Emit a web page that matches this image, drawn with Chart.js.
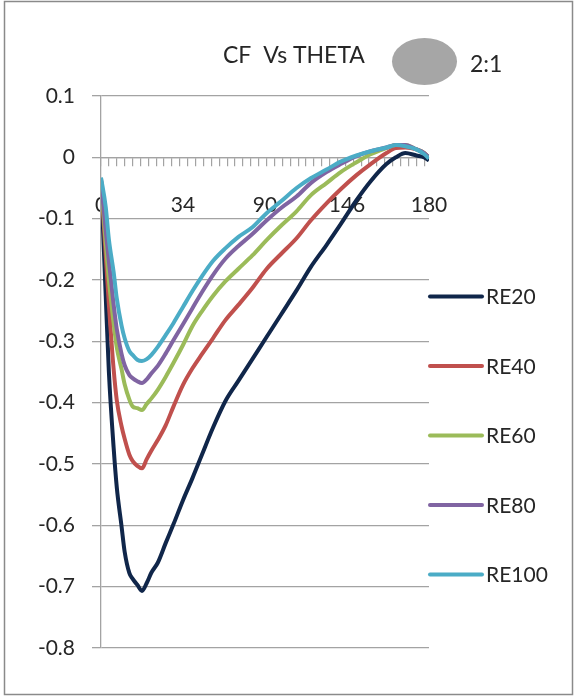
<!DOCTYPE html>
<html>
<head>
<meta charset="utf-8">
<title>CF Vs THETA</title>
<script src="https://cdn.jsdelivr.net/npm/chart.js@4/dist/chart.umd.min.js"></script>
<style>
  html, body { margin: 0; padding: 0; background: #ffffff; }
  #wrap { width: 576px; height: 697px; position: relative; }
</style>
</head>
<body>
<div id="wrap"><canvas id="cf" width="576" height="697"></canvas></div>
<script>
// Sample stations along the surface (category index of the solution grid, 0..208)
const stations = [0, 3, 5, 8, 10, 13, 15, 18, 20, 23, 26, 29, 32, 36, 41, 46, 52, 58, 64, 71,
                  79, 87, 96, 105, 114, 124, 133, 143, 152, 162, 171, 181, 187, 193, 200, 205, 208];

// Skin-friction coefficient for each Reynolds number
const re20 = [-0.034, -0.226, -0.350, -0.473, -0.538, -0.601, -0.643, -0.678, -0.687, -0.697,
              -0.707, -0.694, -0.677, -0.661, -0.629, -0.598, -0.559, -0.523, -0.485, -0.441,
              -0.397, -0.365, -0.329, -0.293, -0.257, -0.217, -0.179, -0.143, -0.109, -0.070,
              -0.039, -0.011, 0.000, 0.007, 0.003, 0.000, -0.005];
const re40 = [-0.037, -0.160, -0.240, -0.345, -0.396, -0.438, -0.459, -0.485, -0.495, -0.503,
              -0.507, -0.492, -0.478, -0.461, -0.437, -0.406, -0.371, -0.344, -0.321, -0.295,
              -0.265, -0.241, -0.213, -0.182, -0.158, -0.132, -0.103, -0.075, -0.052, -0.029,
              -0.011, 0.007, 0.015, 0.016, 0.013, 0.007, 0.000];
const re60 = [-0.037, -0.140, -0.200, -0.270, -0.310, -0.345, -0.370, -0.395, -0.406, -0.409,
              -0.412, -0.402, -0.393, -0.379, -0.358, -0.335, -0.306, -0.275, -0.251, -0.226,
              -0.202, -0.182, -0.160, -0.135, -0.112, -0.088, -0.062, -0.042, -0.024, -0.008,
              0.005, 0.015, 0.020, 0.020, 0.013, 0.007, 0.000];
const re80 = [-0.037, -0.120, -0.170, -0.240, -0.280, -0.320, -0.339, -0.355, -0.360, -0.365,
              -0.368, -0.362, -0.352, -0.340, -0.320, -0.298, -0.272, -0.246, -0.220, -0.192,
              -0.165, -0.145, -0.125, -0.103, -0.083, -0.064, -0.042, -0.024, -0.011, 0.002,
              0.010, 0.016, 0.020, 0.020, 0.013, 0.007, 0.000];
const re100 = [-0.033, -0.081, -0.134, -0.187, -0.230, -0.274, -0.295, -0.316, -0.322, -0.330,
               -0.332, -0.329, -0.322, -0.309, -0.290, -0.270, -0.244, -0.218, -0.194, -0.169,
               -0.148, -0.130, -0.114, -0.091, -0.072, -0.050, -0.034, -0.020, -0.007, 0.003,
               0.010, 0.016, 0.020, 0.018, 0.013, 0.005, -0.002];

const seriesNames = ['RE20', 'RE40', 'RE60', 'RE80', 'RE100'];
const seriesColors = ['#10264a', '#c0504d', '#9bbb59', '#8064a2', '#4bacc6'];

// Theta labels shown along the axis, and the stations they sit on
const thetaLabelStations = [0, 52, 104, 156, 208];
const thetaLabels = ['0', '34', '90', '146', '180'];

const FONT = 'Lato, "Open Sans", sans-serif';
const TEXT = '#262626';
const GRID = '#a3a3a3';

const seriesValues = [re20, re40, re60, re80, re100];
const datasets = seriesValues.map((vals, i) => ({
  label: seriesNames[i],
  data: stations.map((s, k) => ({ x: s, y: vals[k] })),
  borderColor: seriesColors[i],
  backgroundColor: seriesColors[i],
  borderWidth: 4,
  pointRadius: 0,
  fill: false,
  cubicInterpolationMode: 'monotone',
  order: seriesValues.length - i
}));

// Title, the 2:1 ellipse badge, the frame and the side legend
const decorations = {
  id: 'decorations',
  beforeDraw(chart) {
    const ctx = chart.ctx;
    ctx.save();
    ctx.fillStyle = '#ffffff';
    ctx.fillRect(0, 0, chart.width, chart.height);
    ctx.restore();
  },
  afterDraw(chart) {
    const ctx = chart.ctx;
    const area = chart.chartArea;
    ctx.save();

    // frame
    ctx.strokeStyle = '#8a8a8a';
    ctx.lineWidth = 1.5;
    ctx.strokeRect(4.5, 1.5, 568, 693);

    // title
    ctx.fillStyle = TEXT;
    ctx.font = '23px ' + FONT;
    ctx.textAlign = 'left';
    ctx.textBaseline = 'alphabetic';
    ctx.fillText('CF  Vs THETA', 223, 63);

    // ellipse badge
    ctx.fillStyle = '#a6a6a6';
    ctx.beginPath();
    ctx.ellipse(424.5, 61.5, 32.5, 23.5, 0, 0, Math.PI * 2);
    ctx.fill();
    ctx.fillStyle = TEXT;
    ctx.fillText('2:1', 470, 72);

    // legend
    const top = 296.5, gap = 69.5;
    ctx.font = '21px ' + FONT;
    ctx.textBaseline = 'middle';
    chart.data.datasets.forEach((ds, i) => {
      const y = top + i * gap;
      ctx.strokeStyle = ds.borderColor;
      ctx.lineWidth = 4;
      ctx.lineCap = 'round';
      ctx.beginPath();
      ctx.moveTo(area.right + 1, y);
      ctx.lineTo(area.right + 53, y);
      ctx.stroke();
      ctx.fillStyle = TEXT;
      ctx.fillText(ds.label, area.right + 57, y + 1);
    });
    ctx.restore();
  }
};

new Chart(document.getElementById('cf'), {
  type: 'line',
  data: { datasets },
  plugins: [decorations],
  options: {
    responsive: false,
    animation: false,
    devicePixelRatio: 1,
    layout: { padding: { left: 5, top: 96, right: 147, bottom: 49 } },
    plugins: {
      legend: { display: false },
      title: { display: false },
      tooltip: { enabled: false }
    },
    scales: {
      x: {
        type: 'linear',
        position: { y: 0 },
        min: 0,
        max: 208,
        grid: { drawOnChartArea: false, drawTicks: true, tickLength: 8, color: GRID, lineWidth: 1.2 },
        border: { display: true, color: GRID, width: 1.3 },
        ticks: { display: false },
        afterBuildTicks(scale) {
          const t = [];
          for (let v = 0; v <= 205; v += 5) t.push({ value: v });
          scale.ticks = t;
        }
      },
      theta: {
        type: 'linear',
        axis: 'x',
        position: { y: 0 },
        min: 0,
        max: 208,
        grid: { display: false, drawTicks: false },
        border: { display: false },
        ticks: {
          padding: 35,
          maxRotation: 0,
          autoSkip: false,
          color: TEXT,
          font: { family: FONT, size: 21 },
          callback(value) {
            const k = thetaLabelStations.indexOf(value);
            return k >= 0 ? thetaLabels[k] : '';
          }
        },
        afterBuildTicks(scale) {
          scale.ticks = thetaLabelStations.map(v => ({ value: v }));
        }
      },
      y: {
        min: -0.8,
        max: 0.1,
        grid: { color: GRID, lineWidth: 1.3, tickLength: 9 },
        border: { display: true, color: GRID, width: 1.3 },
        ticks: {
          stepSize: 0.1,
          padding: 17,
          color: TEXT,
          font: { family: FONT, size: 21 },
          callback(value) { return String(Math.round(value * 10) / 10); }
        },
        afterFit(scale) { scale.width = 96; }
      }
    }
  }
});
</script>
</body>
</html>
